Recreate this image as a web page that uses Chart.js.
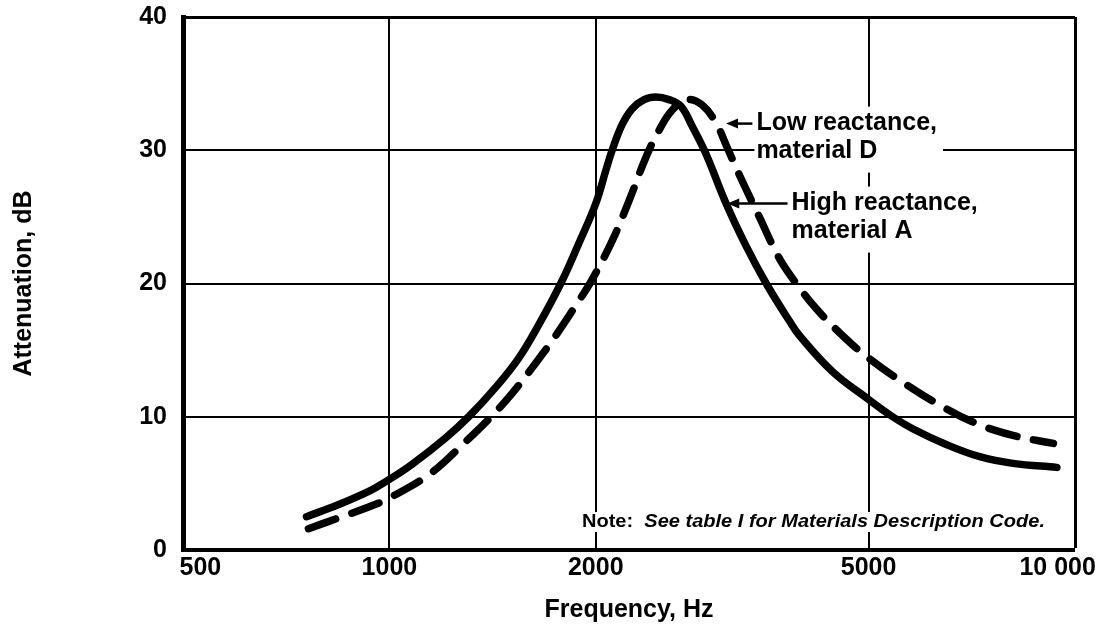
<!DOCTYPE html>
<html>
<head>
<meta charset="utf-8">
<script src="https://cdn.jsdelivr.net/npm/chart.js@4/dist/chart.umd.min.js"></script>
<style>
  html, body { margin: 0; padding: 0; background: #fff; }
  #wrap { width: 1114px; height: 629px; }
</style>
</head>
<body>
<div id="wrap"><canvas id="myChart" width="1114" height="629"></canvas></div>
<script>
// axis ticks
const freqTicks = [500, 1000, 2000, 5000, 10000];
const attTicks = [0, 10, 20, 30, 40];

// high reactance, material A (solid)
const highFreq = [757, 842, 941, 1000, 1077, 1207, 1305, 1429, 1544, 1651, 1778, 1889, 2000, 2069, 2113, 2184, 2259, 2352, 2448, 2558, 2662, 2765, 2897, 3098, 3314, 3545, 3831, 3963, 4427, 5000, 5420, 5797, 6500, 7262, 8117, 9410];
const highAtt  = [2.5, 3.4, 4.5, 5.3, 6.4, 8.4, 10.0, 12.2, 14.4, 16.9, 20.0, 23.0, 26.0, 28.5, 30.0, 31.9, 33.1, 33.8, 34.0, 33.8, 33.3, 31.8, 29.7, 26.0, 22.8, 20.0, 17.2, 16.1, 13.4, 11.3, 10.0, 9.1, 7.9, 7.0, 6.5, 6.2];

// low reactance, material D (dashed)
const lowFreq = [762, 842, 941, 1000, 1145, 1296, 1395, 1507, 1633, 1749, 1889, 1966, 2113, 2236, 2368, 2474, 2584, 2718, 2858, 2998, 3098, 3236, 3464, 3703, 3922, 4195, 4579, 5000, 5641, 6287, 7096, 8117, 9300];
const lowAtt  = [1.6, 2.4, 3.3, 3.9, 5.7, 8.2, 9.8, 11.7, 14.0, 16.1, 18.7, 20.1, 23.2, 26.2, 29.5, 31.5, 33.0, 33.8, 33.4, 32.0, 30.4, 28.2, 25.0, 21.9, 20.0, 18.1, 16.1, 14.4, 12.5, 11.0, 9.6, 8.6, 8.0];

const FONT = '"Liberation Sans", Arial, Helvetica, sans-serif';

function tickText(v) {
  if (v === 500) return '     500';
  if (v === 10000) return '10 000     ';
  return String(v);
}

function toPoints(xs, ys) {
  return xs.map((f, i) => ({ x: f, y: ys[i] }));
}

// callouts + note, drawn over the grid but under the curves
const callouts = {
  id: 'callouts',
  beforeDatasetsDraw(chart) {
    const { ctx, scales: { x, y } } = chart;
    ctx.save();
    ctx.font = 'bold 25px ' + FONT;
    ctx.textBaseline = 'middle';
    ctx.textAlign = 'left';

    const items = [
      { freq: 3430, att: 32.0, tip: 3098, lines: ['Low reactance,', 'material D'] },
      { freq: 3860, att: 26.0, tip: 3110, lines: ['High reactance,', 'material A'] }
    ];
    items.forEach(c => {
      const px = x.getPixelForValue(c.freq);
      const py = y.getPixelForValue(c.att);
      const w = Math.max(...c.lines.map(t => ctx.measureText(t).width));
      ctx.fillStyle = '#fff';
      ctx.fillRect(px - 2, py - 17, w + 8, 28 * (c.lines.length - 1) + 38);
      ctx.fillStyle = '#000';
      c.lines.forEach((t, i) => ctx.fillText(t, px, py + i * 28));
      // arrow
      const tx = x.getPixelForValue(c.tip);
      ctx.strokeStyle = '#000';
      ctx.lineWidth = 2.5;
      ctx.beginPath();
      ctx.moveTo(tx + 8, py);
      ctx.lineTo(px - 4, py);
      ctx.stroke();
      ctx.beginPath();
      ctx.moveTo(tx, py);
      ctx.lineTo(tx + 12, py - 5);
      ctx.lineTo(tx + 12, py + 5);
      ctx.closePath();
      ctx.fill();
    });

    // note: "Note:" upright, the rest italic
    const head = 'Note:';
    const rest = '  See table I for Materials Description Code.';
    const upright = 'bold 18px ' + FONT;
    const italic = 'italic bold 18px ' + FONT;
    ctx.font = upright;
    const hw = ctx.measureText(head).width;
    ctx.font = italic;
    const rw = ctx.measureText(rest).width;
    const target = 463;
    const sx = target / (hw + rw);
    const right = chart.chartArea.right - 30;
    const left = right - target;
    const ny = chart.chartArea.bottom - 28;
    ctx.fillStyle = '#fff';
    ctx.fillRect(left - 4, ny - 10, target + 8, 20);
    ctx.fillStyle = '#000';
    ctx.translate(left, ny);
    ctx.scale(sx, 1);
    ctx.font = upright;
    ctx.fillText(head, 0, 0);
    ctx.font = italic;
    ctx.fillText(rest, hw, 0);
    ctx.restore();
  }
};

const ctx = document.getElementById('myChart').getContext('2d');
const myChart = new Chart(ctx, {
  type: 'line',
  data: {
    datasets: [
      {
        label: 'High reactance, material A',
        data: toPoints(highFreq, highAtt),
        borderColor: '#000',
        borderWidth: 7.5,
        borderCapStyle: 'round',
        borderJoinStyle: 'round',
        tension: 0.4,
        pointRadius: 0,
        fill: false
      },
      {
        label: 'Low reactance, material D',
        data: toPoints(lowFreq, lowAtt),
        borderColor: '#000',
        borderWidth: 7.5,
        borderDash: [29, 17],
        borderCapStyle: 'round',
        borderJoinStyle: 'round',
        tension: 0.4,
        pointRadius: 0,
        fill: false
      }
    ]
  },
  options: {
    responsive: false,
    animation: false,
    events: [],
    layout: { padding: { top: 17, right: 39, left: 0, bottom: 0 } },
    plugins: {
      legend: { display: false },
      tooltip: { enabled: false }
    },
    scales: {
      x: {
        type: 'logarithmic',
        min: 500,
        max: 10000,
        afterBuildTicks: s => { s.ticks = freqTicks.map(v => ({ value: v })); },
        afterFit: s => { s.height = 79; s.paddingLeft = 0; s.paddingRight = 0; },
        ticks: {
          autoSkip: false,
          maxRotation: 0,
          padding: 3,
          color: '#000',
          font: { family: FONT, size: 25, weight: 'bold' },
          callback: v => tickText(v)
        },
        grid: {
          color: '#000',
          drawTicks: false,
          lineWidth: c => c.tick && c.tick.value === 10000 ? 3 : (c.tick && c.tick.value === 500 ? 0 : 2)
        },
        border: { color: '#000', width: 4 },
        title: {
          display: true,
          text: 'Frequency, Hz',
          color: '#000',
          font: { family: FONT, size: 25, weight: 'bold' },
          padding: { top: 4, bottom: 4 }
        }
      },
      y: {
        min: 0,
        max: 40,
        afterBuildTicks: s => { s.ticks = attTicks.map(v => ({ value: v })); },
        afterFit: s => { s.width = 183; s.paddingTop = 0; s.paddingBottom = 0; },
        ticks: {
          padding: 16,
          color: '#000',
          font: { family: FONT, size: 25, weight: 'bold' }
        },
        grid: {
          color: '#000',
          drawTicks: false,
          lineWidth: c => c.tick && c.tick.value === 40 ? 3 : 2
        },
        border: { color: '#000', width: 5 },
        title: {
          display: true,
          text: 'Attenuation, dB',
          color: '#000',
          font: { family: FONT, size: 25, weight: 'bold' },
          padding: { top: 9, bottom: 8 }
        }
      }
    }
  },
  plugins: [callouts]
});
</script>
</body>
</html>
